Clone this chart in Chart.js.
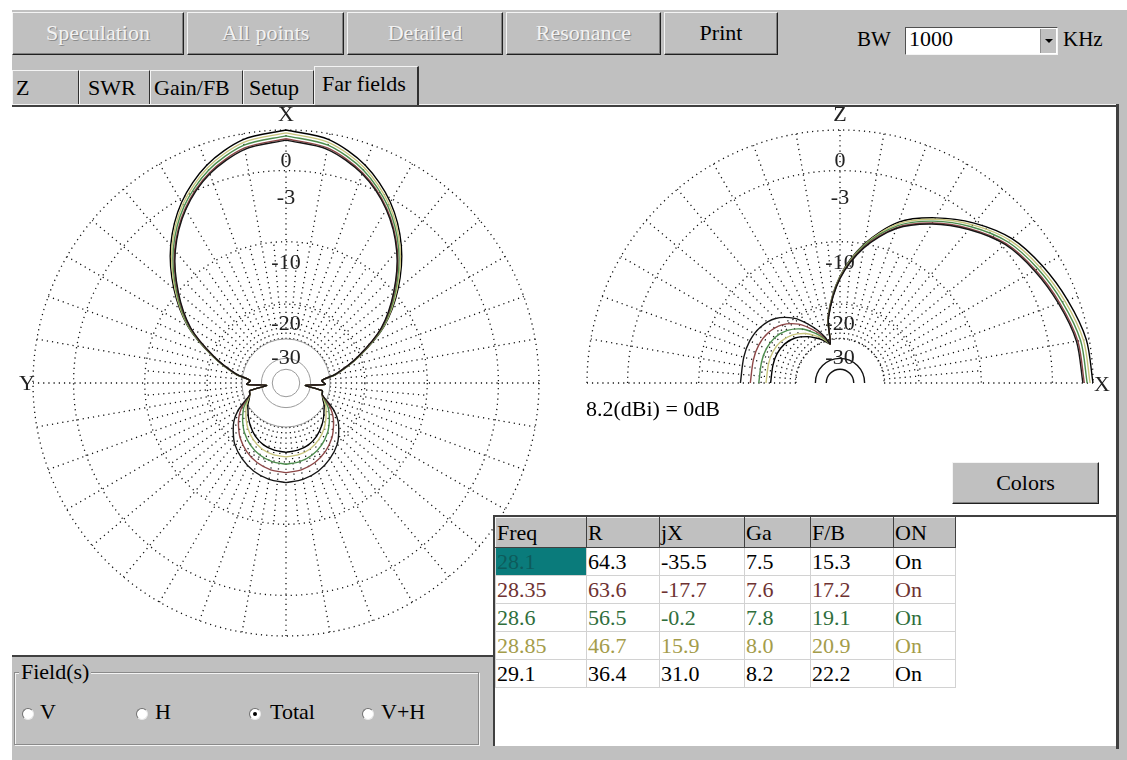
<!DOCTYPE html>
<html>
<head>
<meta charset="utf-8">
<title>Far fields</title>
<script src="https://cdn.jsdelivr.net/npm/chart.js@4.4.1/dist/chart.umd.min.js"></script>
<style>
  body { margin:0; width:1127px; height:760px; position:relative; overflow:hidden; background:#fff;
         font-family:"Liberation Serif","DejaVu Serif",serif; font-size:22px; color:#000; }
  .abs { position:absolute; box-sizing:border-box; }
  #frame { left:12px; top:10px; width:1115px; height:750px; background:#c0c0c0; }
  .btn { background:#c0c0c0; border:1px solid; border-color:#f4f4f4 #202020 #202020 #f4f4f4;
         box-shadow:inset -1px -1px 0 #808080; text-align:center; line-height:40px; }
  .btn.off { color:#f2f2f2; text-shadow:1px 1px 0 #8c8c8c; }
  .tab { top:70px; height:35px; line-height:34px; padding-left:3px; background:#c0c0c0;
         border-top:1px solid #f4f4f4; border-left:1px solid #f4f4f4; border-right:1px solid #303030; }
  .tab.sel { top:66px; height:39px; line-height:34px; padding-left:7px; border-right:2px solid #303030; z-index:3; }
  #panel { left:12px; top:107px; width:1105px; height:548px; background:#fff; }
  canvas { position:absolute; }
  #tableBox { left:493px; top:515px; width:624px; height:231px; background:#fff;
              border-left:2px solid #404040; border-top:2px solid #404040; z-index:4; }
  table { position:absolute; left:0; top:0; border-collapse:collapse; font-size:22px; }
  td, th { padding:0 0 0 1px; height:27px; line-height:26px; text-align:left; font-weight:normal; border:1px solid #d2d2d2; }
  th { background:#c0c0c0; height:29px; border:1px solid; border-color:#f4f4f4 #404040 #404040 #f4f4f4; }
  td.sel { background:#0a7b7b; color:#0d5b5b; }
  #fieldArea { left:12px; top:655px; width:481px; height:105px; background:#c0c0c0; border-top:2px solid #404040; z-index:3; }
  #group { left:2px; top:15px; width:465px; height:73px; border:1px solid #8a8a8a; box-shadow:1px 1px 0 #f4f4f4, inset 1px 1px 0 #f4f4f4; }
  #legendTxt { left:4px; top:-14px; background:#c0c0c0; padding:0 2px; line-height:26px; }
  .radio { width:12px; height:12px; border-radius:50%; background:#fff; border:1px solid;
           border-color:#707070 #e8e8e8 #e8e8e8 #707070; }
  .radio.on::after { content:""; position:absolute; left:3px; top:3px; width:4px; height:4px; border-radius:50%; background:#000; }
</style>
</head>
<body>
<div id="frame" class="abs"></div>

<div class="abs btn off" style="left:12px;top:12px;width:172px;height:43px;">Speculation</div>
<div class="abs btn off" style="left:187px;top:12px;width:157px;height:43px;">All points</div>
<div class="abs btn off" style="left:347px;top:12px;width:156px;height:43px;">Detailed</div>
<div class="abs btn off" style="left:506px;top:12px;width:155px;height:43px;">Resonance</div>
<div class="abs btn" style="left:664px;top:12px;width:114px;height:43px;">Print</div>

<div class="abs" style="left:857px;top:27px;font-size:21px;">BW</div>
<div class="abs" style="left:905px;top:27px;width:153px;height:28px;background:#fff;border:1px solid;border-color:#505050 #f4f4f4 #f4f4f4 #505050;padding-left:3px;line-height:22px;">1000
  <div class="abs" style="right:1px;top:1px;width:16px;height:24px;background:#c0c0c0;border-left:1px solid #909090;">
    <div class="abs" style="left:4px;top:10px;width:0;height:0;border-left:4px solid transparent;border-right:4px solid transparent;border-top:4px solid #000;"></div>
  </div>
</div>
<div class="abs" style="left:1063px;top:27px;font-size:21px;">KHz</div>

<div class="abs tab" style="left:12px;width:67px;">Z</div>
<div class="abs tab" style="left:79px;width:71px;padding-left:8px;">SWR</div>
<div class="abs tab" style="left:150px;width:93px;">Gain/FB</div>
<div class="abs tab" style="left:243px;width:71px;padding-left:5px;">Setup</div>
<div class="abs tab sel" style="left:314px;width:105px;">Far fields</div>
<div class="abs" style="left:12px;top:104px;width:1105px;height:3px;border-top:1px solid #f4f4f4;background:#404040;"></div>

<div id="panel" class="abs"></div>
<div class="abs" style="left:1116px;top:104px;width:3px;height:645px;background:#404040;z-index:5;"></div>

<canvas id="azimuth" width="560" height="560" style="left:6px;top:103px;z-index:1;"></canvas>
<canvas id="elevation" width="560" height="300" style="left:560px;top:103px;z-index:1;"></canvas>

<div class="abs" style="left:586px;top:396px;z-index:2;">8.2(dBi) = 0dB</div>
<div class="abs btn" style="left:952px;top:462px;width:147px;height:42px;z-index:2;">Colors</div>

<div id="tableBox" class="abs"><table id="results"></table></div>

<div id="fieldArea" class="abs">
  <div id="group" class="abs">
    <div id="legendTxt" class="abs">Field(s)</div>
  </div>
  <div class="abs radio" style="left:10px;top:51px;"></div><div class="abs" style="left:28px;top:42px;">V</div>
  <div class="abs radio" style="left:124px;top:51px;"></div><div class="abs" style="left:143px;top:42px;">H</div>
  <div class="abs radio on" style="left:237px;top:51px;"></div><div class="abs" style="left:258px;top:42px;">Total</div>
  <div class="abs radio" style="left:350px;top:51px;"></div><div class="abs" style="left:369px;top:42px;">V+H</div>
</div>

<script>
// sweep results
const freqs = ['28.1', '28.35', '28.6', '28.85', '29.1'];
const resistance = ['64.3', '63.6', '56.5', '46.7', '36.4'];
const reactance = ['-35.5', '-17.7', '-0.2', '15.9', '31.0'];
const gain = ['7.5', '7.6', '7.8', '8.0', '8.2'];
const frontBack = ['15.3', '17.2', '19.1', '20.9', '22.2'];
const onState = ['On', 'On', 'On', 'On', 'On'];
const lineColors = ['#151515', '#8c4646', '#4d8d4d', '#c8c47c', '#000000'];
const textColors = ['#000000', '#6e3232', '#2f6e3c', '#a49c4a', '#000000'];

// grid rings (dB) and their labels
const ringLevels = [0, -3, -10, -20, -30];
const ringLabels = ['0', '-3', '-10', '-20', '-30'];

// azimuth cut, degrees off the X axis (pattern is symmetric about X)
const azAngles = [0, 10, 20, 30, 40, 50, 60, 70, 80, 86, 92, 97, 102, 108, 114, 120, 126, 132, 140, 150, 160, 170, 180];
const az281  = [-0.7, -1.1, -2.2, -4.0, -6.6, -10.1, -14.3, -20.6, -27.8, -33.5, -32, -44, -33, -32.5, -29.5, -26.0, -23.5, -21.8, -19.8, -18.2, -17.0, -16.3, -16.0];
const az2835 = [-0.6, -1.0, -2.1, -3.9, -6.5, -10.0, -14.2, -20.5, -27.7, -33.5, -32, -44, -33, -32.5, -30.0, -27.2, -25.2, -23.6, -21.7, -20.0, -18.8, -18.1, -17.8];
const az286  = [-0.4, -0.8, -1.9, -3.7, -6.3, -9.8, -14.0, -20.4, -27.6, -33.5, -32, -44, -33, -32.5, -30.5, -28.3, -26.7, -25.2, -23.4, -21.7, -20.5, -19.8, -19.5];
const az2885 = [-0.2, -0.6, -1.7, -3.5, -6.1, -9.6, -13.9, -20.3, -27.5, -33.5, -32, -44, -33, -32.5, -31.0, -29.3, -28.0, -26.6, -24.9, -23.2, -22.0, -21.4, -21.1];
const az291  = [0, -0.4, -1.5, -3.3, -5.9, -9.4, -13.8, -20.2, -27.4, -33.5, -32, -44, -33, -32.5, -31.5, -30.0, -28.9, -27.6, -26.0, -24.3, -23.1, -22.5, -22.2];

// elevation cut, degrees up from +X over to -X
const elAngles = [0, 10, 20, 30, 40, 50, 60, 70, 80, 90, 100, 104, 108, 113, 118, 125, 135, 145, 155, 165, 180];
const el281  = [-0.7, -0.9, -1.45, -2.05, -2.75, -4.0, -5.5, -7.4, -10.5, -15.2, -23, -31.5, -28.5, -25.5, -23, -20, -17.5, -16.4, -16.0, -16.0, -16.0];
const el2835 = [-0.6, -0.8, -1.35, -1.95, -2.65, -3.9, -5.4, -7.3, -10.4, -15.1, -22.9, -31.5, -29, -26.5, -24.3, -21.6, -19.3, -18.2, -17.8, -17.8, -17.8];
const el286  = [-0.4, -0.6, -1.15, -1.75, -2.45, -3.7, -5.2, -7.1, -10.2, -15.0, -22.8, -31.5, -29.5, -27.3, -25.5, -23.1, -21.0, -19.9, -19.5, -19.5, -19.5];
const el2885 = [-0.2, -0.4, -0.95, -1.55, -2.25, -3.5, -5.0, -6.9, -10.1, -14.9, -22.7, -31.5, -30, -28.1, -26.6, -24.6, -22.6, -21.5, -21.1, -21.1, -21.1];
const el291  = [0, -0.2, -0.75, -1.35, -2.05, -3.3, -4.85, -6.7, -10.0, -14.8, -22.5, -31.5, -30.5, -28.8, -27.5, -25.7, -23.7, -22.6, -22.2, -22.2, -22.2];

const azPatterns = [az281, az2835, az286, az2885, az291];
const elPatterns = [el281, el2835, el286, el2885, el291];

// ARRL log radius, 0 dB -> 1
const radiusOf = (db) => Math.pow(0.89, -db / 2);
const rad = (deg) => deg * Math.PI / 180;
const serif = '"Liberation Serif", "DejaVu Serif", serif';

// fill the results table
const table = document.getElementById('results');
const widths = [91, 73, 85, 66, 83, 62];
let rows = '<tr>' + ['Freq', 'R', 'jX', 'Ga', 'F/B', 'ON'].map((h, i) => `<th style="width:${widths[i] - 2}px">${h}</th>`).join('') + '</tr>';
freqs.forEach((f, i) => {
  const cells = [f, resistance[i], reactance[i], gain[i], frontBack[i], onState[i]];
  rows += '<tr style="color:' + textColors[i] + '">' +
    cells.map((c, j) => `<td${i === 0 && j === 0 ? ' class="sel"' : ''}>${c}</td>`).join('') + '</tr>';
});
table.innerHTML = rows;

// dotted polar grid, drawn under the patterns
const polarGrid = {
  id: 'polarGrid',
  beforeDatasetsDraw(chart, args, opts) {
    const { ctx, scales: { x, y } } = chart;
    const cx = x.getPixelForValue(0), cy = y.getPixelForValue(0);
    const R = x.getPixelForValue(1) - cx;
    const half = opts.half;
    const a0 = half ? Math.PI : 0, a1 = 2 * Math.PI;
    ctx.save();
    ctx.lineWidth = 1.3;

    // spokes
    ctx.strokeStyle = '#111';
    ctx.setLineDash([1.2, 4]);
    const rIn = radiusOf(-30) * R;
    const maxDeg = half ? 180 : 355;
    for (let d = 0; d <= maxDeg; d += 5) {
      const outer = d % 10 === 0 ? radiusOf(0) * R : radiusOf(-10) * R;
      const c = Math.cos(rad(d)), s = -Math.sin(rad(d));
      ctx.beginPath();
      ctx.moveTo(cx + c * rIn, cy + s * rIn);
      ctx.lineTo(cx + c * outer, cy + s * outer);
      ctx.stroke();
    }
    // dotted rings
    [0, -3, -10, -20].forEach((db) => {
      ctx.beginPath();
      ctx.arc(cx, cy, radiusOf(db) * R, a0, a1);
      ctx.stroke();
    });
    if (half) {
      ctx.beginPath();
      ctx.arc(cx, cy, radiusOf(-30) * R, a0, a1);
      ctx.stroke();
    }
    ctx.setLineDash([]);
    // solid inner rings
    const inner = half ? [-40, -50] : [-30, -40, -50];
    ctx.strokeStyle = half ? '#111' : '#9a9a9a';
    ctx.lineWidth = half ? 1.4 : 1;
    inner.forEach((db) => {
      ctx.beginPath();
      ctx.arc(cx, cy, radiusOf(db) * R, a0, a1);
      ctx.stroke();
    });

    // ring labels and axis letters
    ctx.fillStyle = '#222';
    ctx.font = '22px ' + serif;
    ctx.textAlign = 'center';
    ctx.textBaseline = 'middle';
    const labelR = [0.882, 0.733, 0.478, 0.237, 0.103];
    ringLabels.forEach((t, i) => ctx.fillText(t, cx, cy - labelR[i] * R + 1));
    ctx.fillText(opts.top, cx, cy - R - 15);
    if (half) ctx.fillText(opts.side, cx + R + 9, cy + 2);
    else ctx.fillText(opts.side, cx - R - 6, cy + 1);
    ctx.restore();
  }
};

const azimuthPoints = (pattern) => {
  const right = azAngles.map((a, i) => ({ x: radiusOf(pattern[i]) * Math.sin(rad(a)), y: radiusOf(pattern[i]) * Math.cos(rad(a)) }));
  const left = right.slice().reverse().map((p) => ({ x: -p.x, y: p.y }));
  return right.concat(left);
};
const elevationPoints = (pattern) =>
  elAngles.map((a, i) => ({ x: radiusOf(pattern[i]) * Math.cos(rad(a)), y: radiusOf(pattern[i]) * Math.sin(rad(a)) }));

const k = 280 / 253;
const makeChart = (id, data, yMin, grid) => new Chart(document.getElementById(id), {
  type: 'scatter',
  data: {
    datasets: data.map((pts, i) => ({
      label: freqs[i],
      data: pts,
      showLine: true,
      borderColor: lineColors[i],
      borderWidth: 1.4,
      pointRadius: 0,
      tension: 0.3,
      fill: false
    }))
  },
  options: {
    responsive: false,
    animation: false,
    events: [],
    layout: { padding: 0 },
    plugins: { legend: { display: false }, tooltip: { enabled: false }, polarGrid: grid },
    scales: {
      x: { type: 'linear', display: false, min: -k, max: k },
      y: { type: 'linear', display: false, min: yMin, max: k }
    }
  },
  plugins: [polarGrid]
});

makeChart('azimuth', azPatterns.map(azimuthPoints), -k, { half: false, top: 'X', side: 'Y' });
makeChart('elevation', elPatterns.map(elevationPoints), -20 / 253, { half: true, top: 'Z', side: 'X' });
</script>
</body>
</html>
